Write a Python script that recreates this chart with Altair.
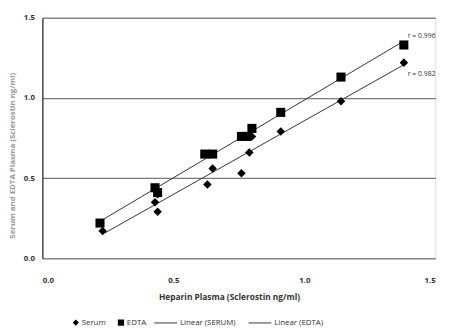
import altair as alt
import pandas as pd

# Serum vs heparin plasma
serum_x = [0.23, 0.43, 0.44, 0.44, 0.63, 0.65, 0.76, 0.79, 0.80, 0.91, 1.14, 1.38]
serum_y = [0.17, 0.35, 0.29, 0.40, 0.46, 0.56, 0.53, 0.66, 0.76, 0.79, 0.98, 1.22]
# EDTA vs heparin plasma
edta_x = [0.22, 0.43, 0.44, 0.62, 0.65, 0.76, 0.78, 0.80, 0.91, 1.14, 1.38]
edta_y = [0.22, 0.44, 0.41, 0.65, 0.65, 0.76, 0.76, 0.81, 0.91, 1.13, 1.33]

series_names = ["Serum", "EDTA"]
fit_names = ["Linear (SERUM)", "Linear (EDTA)"]
r_labels = ["r = 0.996", "r = 0.982"]
r_x = [1.395, 1.395]
r_y = [1.385, 1.15]

x_ticks = [0.0, 0.5, 1.0, 1.5]
y_ticks = [0.0, 0.5, 1.0, 1.5]

FONT = "Open Sans"

df = pd.DataFrame(
    {"x": serum_x + edta_x,
     "y": serum_y + edta_y,
     "series": [series_names[0]] * len(serum_x) + [series_names[1]] * len(edta_x),
     "fit": [fit_names[0]] * len(serum_x) + [fit_names[1]] * len(edta_x)}
)
ann = pd.DataFrame({"x": r_x, "y": r_y, "label": r_labels})

xs = alt.Scale(domain=[0, 1.5], nice=False)
ys = alt.Scale(domain=[0, 1.5], nice=False)

base = alt.Chart(df)

points = base.mark_point(filled=True, opacity=1, color="black").encode(
    x=alt.X("x:Q", scale=xs,
            axis=alt.Axis(values=x_ticks, format=".1f", title="Heparin Plasma (Sclerostin ng/ml)",
                          grid=False, domain=False, ticks=False, labelPadding=19,
                          labelFont=FONT, labelFontSize=8, labelFontWeight="bold", labelColor="#333",
                          titleFont=FONT, titleFontSize=8.5, titleFontWeight="bold", titleColor="#333",
                          titlePadding=8, titleX=190)),
    y=alt.Y("y:Q", scale=ys,
            axis=alt.Axis(values=y_ticks, format=".1f",
                          title="Serum and EDTA Plasma (Sclerostin ng/ml)",
                          grid=True, gridColor="#555", gridWidth=1,
                          domain=True, domainColor="#222", domainWidth=1.2, ticks=False,
                          labelPadding=8, labelFont=FONT, labelFontSize=8, labelFontWeight="bold",
                          labelColor="#333", titleFont=FONT, titleFontSize=8, titleColor="#999",
                          titlePadding=7, titleY=140)),
    shape=alt.Shape("series:N",
                    scale=alt.Scale(domain=series_names, range=["diamond", "square"]),
                    legend=alt.Legend(title=None, orient="none", legendX=30, legendY=306,
                                      direction="horizontal", columnPadding=8,
                                      symbolFillColor="black", symbolStrokeColor="black",
                                      symbolSize=40, labelFont=FONT, labelFontSize=8,
                                      labelColor="#333", labelOffset=2)),
    size=alt.Size("series:N", scale=alt.Scale(domain=series_names, range=[75, 85]), legend=None),
)

lines = base.transform_regression("x", "y", groupby=["fit"]).mark_line(
    strokeWidth=1, color="#333"
).encode(
    x=alt.X("x:Q", scale=xs),
    y=alt.Y("y:Q", scale=ys),
    stroke=alt.Stroke("fit:N",
                      scale=alt.Scale(domain=fit_names, range=["#333", "#333"]),
                      legend=alt.Legend(title=None, orient="none", legendX=113, legendY=298,
                                        direction="horizontal", columnPadding=10,
                                        symbolType="stroke", symbolSize=540, symbolStrokeWidth=1,
                                        labelFont=FONT, labelFontSize=8, labelColor="#333",
                                        labelOffset=2)),
)

texts = alt.Chart(ann).mark_text(
    align="left", baseline="middle", font=FONT, fontSize=7, color="#333"
).encode(x=alt.X("x:Q", scale=xs), y=alt.Y("y:Q", scale=ys), text="label:N")

chart = alt.layer(lines, points, texts).resolve_scale(
    shape="independent"
).properties(
    width=400, height=245,
    autosize=alt.AutoSizeParams(type="none"),
    padding={"left": 35, "top": 7, "right": 16, "bottom": 67},
).configure_view(stroke=None).configure(background="white")

chart.save("out.html", embed_options={"renderer": "svg", "actions": False})
